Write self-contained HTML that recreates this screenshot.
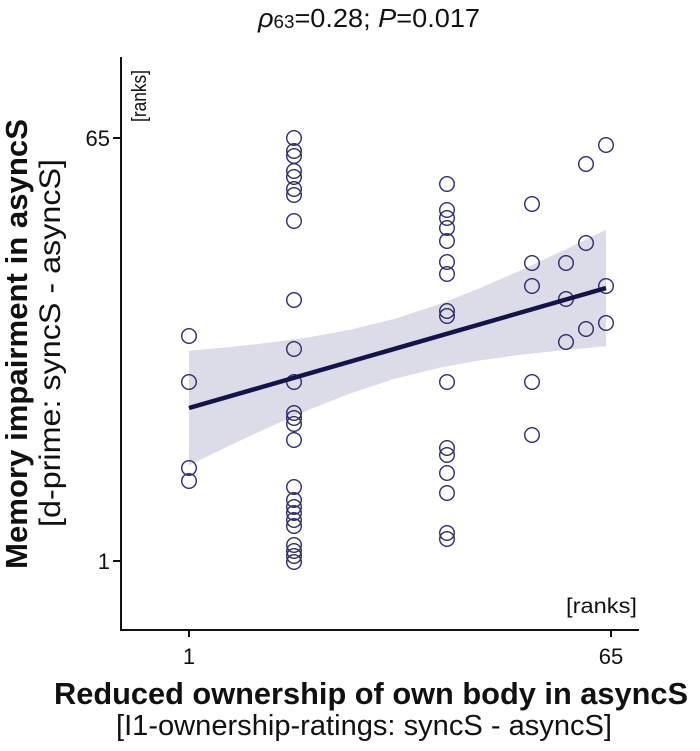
<!DOCTYPE html>
<html><head><meta charset="utf-8"><style>
html,body{margin:0;padding:0;background:#fff;}
svg{display:block;}
text{font-family:"Liberation Sans",Arial,sans-serif;fill:#111;}
</style></head><body>
<svg width="700" height="751" viewBox="0 0 700 751" xmlns="http://www.w3.org/2000/svg">
<rect width="700" height="751" fill="#fff"/>
<!-- title -->
<text x="258" y="27" font-size="26" textLength="222" lengthAdjust="spacingAndGlyphs"><tspan font-style="italic">ρ</tspan><tspan font-size="18" dy="1">63</tspan><tspan dy="-1">=0.28; </tspan><tspan font-style="italic">P</tspan>=0.017</text>
<!-- CI band -->
<polygon fill="#dcdce8" points="189,350.8 230,347.0 270,342.6 310,337.1 350,329.8 395,318.7 440,303.9 480,288.1 520,270.6 560,252.0 606,229.8 606,346.3 560,350.5 520,354.9 480,360.4 440,367.6 395,378.7 350,393.5 310,409.3 270,426.8 230,445.4 189,465.2"/>
<!-- circles -->
<g fill="none" stroke="#2b2b6b" stroke-width="1.4">
<circle cx="189" cy="336" r="7.3"/><circle cx="189" cy="382" r="7.3"/><circle cx="189" cy="468" r="7.3"/><circle cx="189" cy="481" r="7.3"/>
<circle cx="294" cy="138" r="7.3"/><circle cx="294" cy="151" r="7.3"/><circle cx="294" cy="156" r="7.3"/><circle cx="294" cy="171" r="7.3"/><circle cx="294" cy="177" r="7.3"/><circle cx="294" cy="189" r="7.3"/><circle cx="294" cy="195" r="7.3"/><circle cx="294" cy="221" r="7.3"/><circle cx="294" cy="300" r="7.3"/><circle cx="294" cy="349" r="7.3"/><circle cx="294" cy="382" r="7.3"/><circle cx="294" cy="413" r="7.3"/><circle cx="294" cy="418" r="7.3"/><circle cx="294" cy="424" r="7.3"/><circle cx="294" cy="440" r="7.3"/><circle cx="294" cy="487" r="7.3"/><circle cx="294" cy="500" r="7.3"/><circle cx="294" cy="507" r="7.3"/><circle cx="294" cy="513" r="7.3"/><circle cx="294" cy="520" r="7.3"/><circle cx="294" cy="526" r="7.3"/><circle cx="294" cy="545" r="7.3"/><circle cx="294" cy="551" r="7.3"/><circle cx="294" cy="556" r="7.3"/><circle cx="294" cy="562" r="7.3"/>
<circle cx="447" cy="184" r="7.3"/><circle cx="447" cy="210" r="7.3"/><circle cx="447" cy="218" r="7.3"/><circle cx="447" cy="228" r="7.3"/><circle cx="447" cy="241" r="7.3"/><circle cx="447" cy="262" r="7.3"/><circle cx="447" cy="274" r="7.3"/><circle cx="447" cy="311" r="7.3"/><circle cx="447" cy="316" r="7.3"/><circle cx="447" cy="382" r="7.3"/><circle cx="447" cy="448" r="7.3"/><circle cx="447" cy="455" r="7.3"/><circle cx="447" cy="473" r="7.3"/><circle cx="447" cy="493" r="7.3"/><circle cx="447" cy="533" r="7.3"/><circle cx="447" cy="539" r="7.3"/>
<circle cx="532" cy="204" r="7.3"/><circle cx="532" cy="263" r="7.3"/><circle cx="532" cy="286" r="7.3"/><circle cx="532" cy="382" r="7.3"/><circle cx="532" cy="435" r="7.3"/>
<circle cx="566" cy="263" r="7.3"/><circle cx="566" cy="299" r="7.3"/><circle cx="566" cy="342" r="7.3"/>
<circle cx="586" cy="164" r="7.3"/><circle cx="586" cy="243" r="7.3"/><circle cx="586" cy="329" r="7.3"/>
<circle cx="606" cy="145" r="7.3"/><circle cx="606" cy="286" r="7.3"/><circle cx="606" cy="323" r="7.3"/>
</g>
<!-- regression line -->
<line x1="189" y1="408" x2="606" y2="288" stroke="#14144a" stroke-width="4.5"/>
<!-- axes -->
<g stroke="#111" stroke-width="2" fill="none">
<line x1="121" y1="57" x2="121" y2="631"/>
<line x1="120" y1="630" x2="639" y2="630"/>
<line x1="113" y1="138" x2="121" y2="138"/>
<line x1="113" y1="561" x2="121" y2="561"/>
<line x1="189" y1="630" x2="189" y2="637"/>
<line x1="611" y1="630" x2="611" y2="637"/>
</g>
<!-- tick labels -->
<text x="110" y="146" font-size="22" text-anchor="end">65</text>
<text x="110" y="569" font-size="22" text-anchor="end">1</text>
<text x="189" y="664" font-size="22" text-anchor="middle">1</text>
<text x="611" y="664" font-size="22" text-anchor="middle">65</text>
<!-- ranks labels -->
<text x="566" y="613" font-size="21" textLength="71" lengthAdjust="spacingAndGlyphs">[ranks]</text>
<text transform="translate(146,122) rotate(-90)" font-size="20" textLength="52" lengthAdjust="spacingAndGlyphs">[ranks]</text>
<!-- x axis labels -->
<text x="54" y="704" font-size="31" font-weight="bold" textLength="634" lengthAdjust="spacingAndGlyphs">Reduced ownership of own body in asyncS</text>
<text x="116" y="735" font-size="29" textLength="496" lengthAdjust="spacingAndGlyphs">[I1-ownership-ratings: syncS - asyncS]</text>
<!-- y axis labels -->
<text transform="translate(27,569) rotate(-90)" font-size="31" font-weight="bold" textLength="450" lengthAdjust="spacingAndGlyphs">Memory impairment in asyncS</text>
<text transform="translate(60,527) rotate(-90)" font-size="30" textLength="368" lengthAdjust="spacingAndGlyphs">[d-prime: syncS - asyncS]</text>
</svg>
</body></html>
